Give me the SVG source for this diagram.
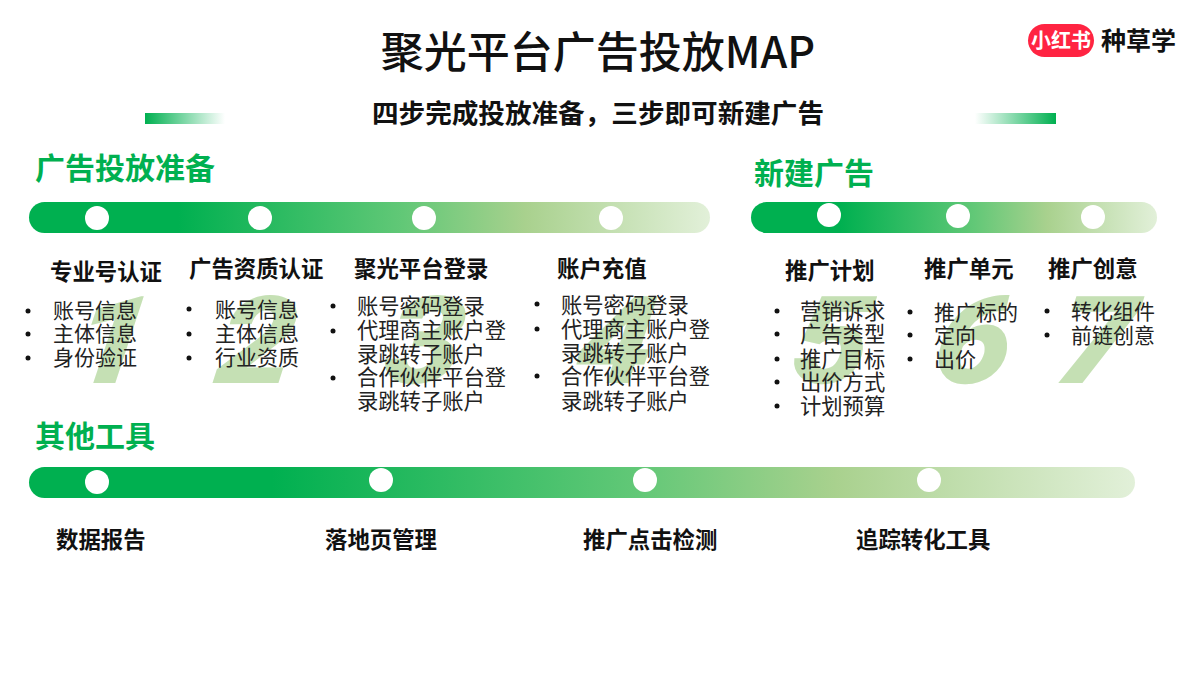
<svg xmlns="http://www.w3.org/2000/svg" width="1200" height="675" viewBox="0 0 1200 675">
<style>
text{font-family:"Liberation Sans","Noto Sans CJK SC",sans-serif;fill:#111}
.t{font-family:"Noto Sans CJK SC",sans-serif;font-size:43px;font-weight:500;text-anchor:middle}
.s{font-size:26.6px;font-weight:700;text-anchor:middle}
.g{font-size:30px;font-weight:700;fill:#00b050}
.h{font-size:22.4px;font-weight:700}
.b{font-size:21.3px;fill:#222}
.c{font-size:21px;fill:#222}
.n{font-family:Roboto,sans-serif;font-size:122px;font-weight:900;font-style:italic;fill:#c5e0b4}
.d{fill:#fff}
.k{fill:#111}
</style>
<defs>
<linearGradient id="bar"><stop offset="0" stop-color="#00b050"/><stop offset=".22" stop-color="#00b050"/><stop offset=".55" stop-color="#62c877"/><stop offset=".73" stop-color="#a9d18e"/><stop offset="1" stop-color="#e2f0d9"/></linearGradient>
<linearGradient id="l"><stop offset="0" stop-color="#00b050"/><stop offset="1" stop-color="#fff"/></linearGradient>
<linearGradient id="r"><stop offset="0" stop-color="#fff"/><stop offset="1" stop-color="#00b050"/></linearGradient>
</defs>
<rect width="1200" height="675" fill="#fff"/>
<g id="header">
<text class="t" x="598" y="68">聚光平台广告投放MAP</text>
<rect x="145" y="113" width="80" height="11" fill="url(#l)"/>
<rect x="975" y="113" width="81" height="11" fill="url(#r)"/>
<text class="s" x="598" y="123">四步完成投放准备，三步即可新建广告</text>
</g>
<g id="logo">
<rect x="1028" y="24" width="66" height="33" rx="16.5" fill="#ff2442"/>
<text x="1061" y="48" font-size="20" font-weight="700" text-anchor="middle" style="fill:#fff">小红书</text>
<text x="1101" y="50" font-size="25" font-weight="700">种草学</text>
</g>
<g id="numerals">
<text class="n" transform="translate(68 383) skewX(-8) scale(1.12 1)">1</text>
<text class="n" transform="translate(213 383) skewX(-8) scale(1.12 1)">2</text>
<text class="n" transform="translate(381 383) skewX(-8) scale(1.12 1)">3</text>
<text class="n" transform="translate(572 383) skewX(-8) scale(1.12 1)">4</text>
<text class="n" transform="translate(788 383) skewX(-8) scale(1.12 1)">5</text>
<text class="n" transform="translate(930 383) skewX(-8) scale(1.12 1)">6</text>
<text class="n" transform="translate(1052 383) skewX(-8) scale(1.12 1)">7</text>
</g>
<g id="sections">
<text class="g" x="35" y="179">广告投放准备</text>
<text class="g" x="754" y="184">新建广告</text>
<text class="g" x="35" y="447">其他工具</text>
</g>
<g id="connectors">
<rect x="29" y="202" width="681" height="31" rx="15.5" fill="url(#bar)"/>
<rect x="751" y="202" width="406" height="31" rx="15.5" fill="url(#bar)"/>
<rect x="29" y="467" width="1106" height="31" rx="15.5" fill="url(#bar)"/>
</g>
<g id="step1">
<circle class="d" cx="97" cy="218" r="12"/>
<text class="h" x="50" y="280">专业号认证</text>
<text class="c" x="53" y="318">账号信息</text><text class="c" x="53" y="341">主体信息</text><text class="c" x="53" y="365">身份验证</text>
<circle class="k" cx="28" cy="311" r="2.5"/><circle class="k" cx="28" cy="334" r="2.5"/><circle class="k" cx="28" cy="358" r="2.5"/>
</g>
<g id="step2">
<circle class="d" cx="260" cy="218" r="12"/>
<text class="h" x="189" y="277">广告资质认证</text>
<text class="c" x="215" y="317">账号信息</text><text class="c" x="215" y="341">主体信息</text><text class="c" x="215" y="365">行业资质</text>
<circle class="k" cx="189" cy="309" r="2.5"/><circle class="k" cx="189" cy="334" r="2.5"/><circle class="k" cx="189" cy="358" r="2.5"/>
</g>
<g id="step3">
<circle class="d" cx="424" cy="218" r="12"/>
<text class="h" x="354" y="277">聚光平台登录</text>
<text class="b" x="357" y="314">账号密码登录</text><text class="b" x="357" y="338">代理商主账户登</text><text class="b" x="357" y="362">录跳转子账户</text><text class="b" x="357" y="385">合作伙伴平台登</text><text class="b" x="357" y="409">录跳转子账户</text>
<circle class="k" cx="333" cy="306" r="2.5"/><circle class="k" cx="333" cy="331" r="2.5"/><circle class="k" cx="333" cy="378" r="2.5"/>
</g>
<g id="step4">
<circle class="d" cx="611" cy="218" r="12"/>
<text class="h" x="557" y="277">账户充值</text>
<text class="b" x="561" y="313">账号密码登录</text><text class="b" x="561" y="337">代理商主账户登</text><text class="b" x="561" y="361">录跳转子账户</text><text class="b" x="561" y="384">合作伙伴平台登</text><text class="b" x="561" y="409">录跳转子账户</text>
<circle class="k" cx="537" cy="304" r="2.5"/><circle class="k" cx="537" cy="329" r="2.5"/><circle class="k" cx="537" cy="376" r="2.5"/>
</g>
<g id="step5">
<circle class="d" cx="829" cy="215" r="12"/>
<text class="h" x="785" y="279">推广计划</text>
<text class="b" x="800" y="319">营销诉求</text><text class="b" x="800" y="342">广告类型</text><text class="b" x="800" y="367">推广目标</text><text class="b" x="800" y="390">出价方式</text><text class="b" x="800" y="414">计划预算</text>
<circle class="k" cx="777" cy="311" r="2.5"/><circle class="k" cx="777" cy="334" r="2.5"/><circle class="k" cx="777" cy="359" r="2.5"/><circle class="k" cx="777" cy="382" r="2.5"/><circle class="k" cx="777" cy="406" r="2.5"/>
</g>
<g id="step6">
<circle class="d" cx="958" cy="216" r="12"/>
<text class="h" x="924" y="277">推广单元</text>
<text class="c" x="934" y="320">推广标的</text><text class="c" x="934" y="343">定向</text><text class="c" x="934" y="367">出价</text>
<circle class="k" cx="910" cy="312" r="2.5"/><circle class="k" cx="910" cy="335" r="2.5"/><circle class="k" cx="910" cy="359" r="2.5"/>
</g>
<g id="step7">
<circle class="d" cx="1093" cy="217" r="12"/>
<text class="h" x="1048" y="277">推广创意</text>
<text class="c" x="1071" y="319">转化组件</text><text class="c" x="1071" y="343">前链创意</text>
<circle class="k" cx="1047" cy="311" r="2.5"/><circle class="k" cx="1047" cy="335" r="2.5"/>
</g>
<g id="tool1"><circle class="d" cx="97" cy="482" r="12"/><text class="h" x="56" y="548">数据报告</text></g>
<g id="tool2"><circle class="d" cx="381" cy="480" r="12"/><text class="h" x="325" y="548">落地页管理</text></g>
<g id="tool3"><circle class="d" cx="645" cy="480" r="12"/><text class="h" x="583" y="548">推广点击检测</text></g>
<g id="tool4"><circle class="d" cx="929" cy="480" r="12"/><text class="h" x="856" y="548">追踪转化工具</text></g>
</svg>
